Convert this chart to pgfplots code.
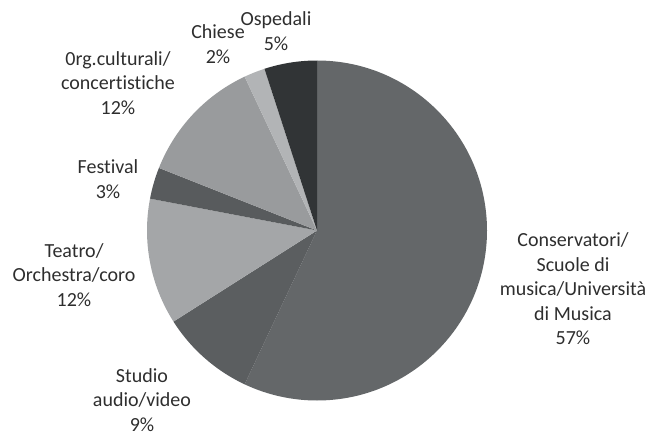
\documentclass[border=0pt]{standalone}
\usepackage{pgfplots}
\pgfplotsset{compat=1.18}
\usepackage{fontspec}
\setmainfont{Carlito}[Ligatures={NoCommon}]
\definecolor{cCons}{HTML}{646769}
\definecolor{cStud}{HTML}{5B5E60}
\definecolor{cTeat}{HTML}{A4A6A8}
\definecolor{cFest}{HTML}{585B5D}
\definecolor{cOrg}{HTML}{999B9D}
\definecolor{cChie}{HTML}{B2B4B6}
\definecolor{cOsp}{HTML}{313436}
\definecolor{txt}{HTML}{2E2E2E}
\begin{document}
\begin{tikzpicture}
\begin{axis}[x=1pt,y=1pt,xmin=0,xmax=662,ymin=0,ymax=437,hide axis,clip=false]
\coordinate (SW) at (axis cs:0,0);
\coordinate (NE) at (axis cs:662,437);
\pgfmathsetmacro{\start}{90}
\foreach \v/\c in {57/cCons,9/cStud,12/cTeat,3/cFest,12/cOrg,2/cChie,5/cOsp}{
  \pgfmathsetmacro{\e}{\start-3.6*\v}
  \edef\temp{\noexpand\fill[\c] (axis cs:317,206.5) -- ++(\start:170pt) arc[start angle=\start, end angle=\e, radius=170pt] -- cycle;}
  \temp
  \global\let\start\e
}
\tikzset{lab/.style={align=center,font=\fontsize{20}{24.5}\selectfont,text=txt,inner sep=0pt}}
\node[lab] at (axis cs:276,406) {Ospedali\\5\%};
\node[lab] at (axis cs:218,393) {Chiese\\2\%};
\node[lab] at (axis cs:118,354) {0rg.culturali/\\concertistiche\\12\%};
\node[lab] at (axis cs:108,258) {Festival\\3\%};
\node[lab] at (axis cs:74,162) {Teatro/\\Orchestra/coro\\12\%};
\node[lab] at (axis cs:142,37) {Studio\\audio/video\\9\%};
\node[lab] at (axis cs:573,148) {Conservatori/\\Scuole di\\musica/Università\\di Musica\\57\%};
\end{axis}
\pgfresetboundingbox
\useasboundingbox (SW) rectangle (NE);
\end{tikzpicture}
\end{document}
